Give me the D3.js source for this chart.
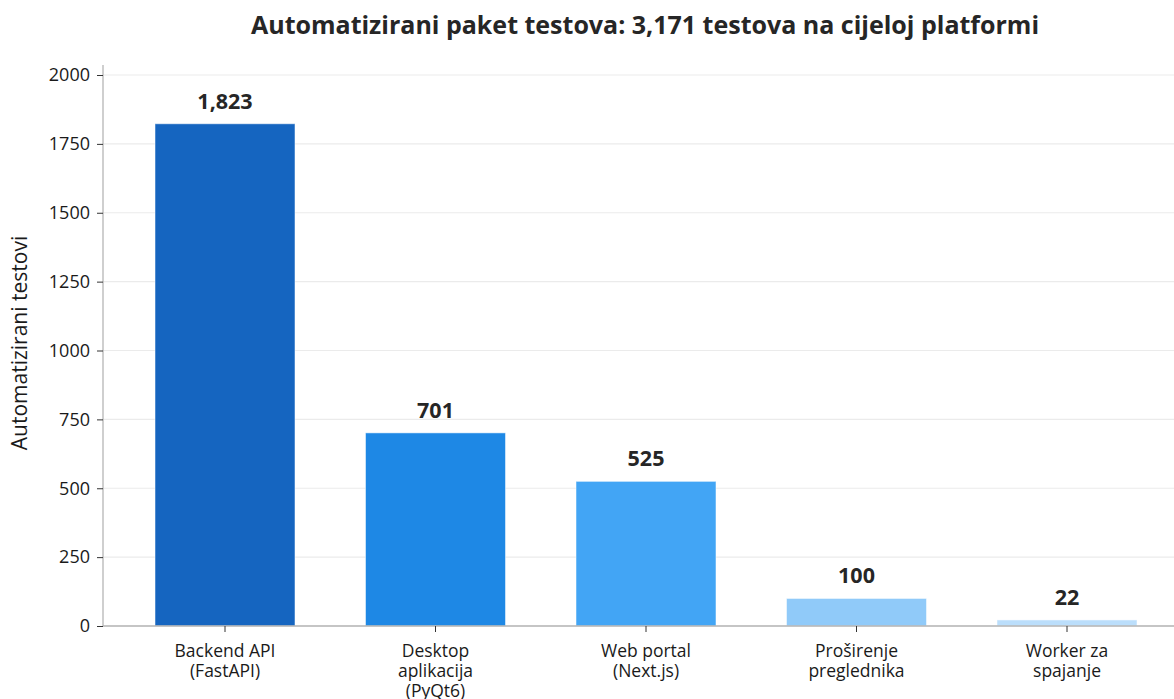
<!DOCTYPE html>
<html>
<head>
<meta charset="utf-8">
<script src="https://cdn.jsdelivr.net/npm/d3@7"></script>
<style>
  html, body { margin: 0; padding: 0; background: #fff; }
  svg { display: block; font-family: "Open Sans", sans-serif; }
  svg text { font-family: "Open Sans", sans-serif; }
</style>
</head>
<body>
<svg id="chart" width="1174" height="699"></svg>
<script>
// Test counts per platform component
const categories = [
  ["Backend API", "(FastAPI)"],
  ["Desktop", "aplikacija", "(PyQt6)"],
  ["Web portal", "(Next.js)"],
  ["Proširenje", "preglednika"],
  ["Worker za", "spajanje"]
];
const testCounts = [1823, 701, 525, 100, 22];
const barColors = ["#1565C0", "#1E88E5", "#42A5F5", "#90CAF9", "#BBDEFB"];
const yTicks = [0, 250, 500, 750, 1000, 1250, 1500, 1750, 2000];
const titleText = "Automatizirani paket testova: 3,171 testova na cijeloj platformi";
const yLabel = "Automatizirani testovi";

(function draw() {
  const svg = d3.select("#chart");
  const plotLeft = 103, plotRight = 1174, plotTop = 75, plotBottom = 626;

  const keys = categories.map((c, i) => i);
  const x = d3.scaleBand()
    .domain(keys)
    .range([119.75, 1172.25])
    .paddingInner(0.335)
    .paddingOuter(0.1675);

  const y = d3.scaleLinear().domain([0, 2000]).range([plotBottom, plotTop]);

  // horizontal grid
  svg.append("g")
    .selectAll("line")
    .data(yTicks)
    .join("line")
    .attr("x1", plotLeft).attr("x2", plotRight)
    .attr("y1", d => y(d)).attr("y2", d => y(d))
    .attr("stroke", "#ebebeb").attr("stroke-width", 1.2);

  // bars
  svg.append("g")
    .selectAll("rect")
    .data(testCounts)
    .join("rect")
    .attr("x", (d, i) => x(i))
    .attr("y", d => y(d))
    .attr("width", x.bandwidth())
    .attr("height", d => y(0) - y(d))
    .attr("fill", (d, i) => barColors[i])
    .attr("stroke", "#ffffff").attr("stroke-opacity", 0.5).attr("stroke-width", 1);

  // value labels
  svg.append("g")
    .selectAll("text")
    .data(testCounts)
    .join("text")
    .attr("x", (d, i) => x(i) + x.bandwidth() / 2)
    .attr("y", d => y(d) - 15)
    .attr("text-anchor", "middle")
    .attr("font-size", 21.5)
    .attr("font-weight", "bold")
    .attr("fill", "#262626")
    .text(d => d3.format(",")(d));

  // y axis
  const yAxis = svg.append("g")
    .attr("transform", `translate(${plotLeft},0)`)
    .call(d3.axisLeft(y).tickValues(yTicks).tickSize(6).tickPadding(7).tickFormat(d3.format("d")));
  yAxis.attr("font-family", null);
  yAxis.select(".domain").attr("stroke", "#b5b5b5").attr("stroke-width", 1.3).attr("d", `M0,${plotTop - 10}V${plotBottom}`);
  yAxis.selectAll(".tick line").attr("stroke", "#333");
  yAxis.selectAll(".tick text").attr("font-size", 18).attr("fill", "#1a1a1a");

  // x axis
  const xAxis = svg.append("g")
    .attr("transform", `translate(0,${plotBottom})`)
    .call(d3.axisBottom(x).tickSize(6).tickFormat(""));
  xAxis.attr("font-family", null);
  xAxis.select(".domain").attr("stroke", "#b5b5b5").attr("stroke-width", 1.3).attr("d", `M${plotLeft},0H${plotRight}`);
  xAxis.selectAll(".tick line").attr("stroke", "#333");
  xAxis.selectAll(".tick").each(function(d) {
    const t = d3.select(this).append("text")
      .attr("text-anchor", "middle")
      .attr("font-size", 17.5)
      .attr("fill", "#1a1a1a");
    categories[d].forEach((line, j) => {
      t.append("tspan").attr("x", 0).attr("y", 31 + j * 20).text(line);
    });
  });

  // title
  svg.append("text")
    .attr("x", 645).attr("y", 34)
    .attr("text-anchor", "middle")
    .attr("font-size", 25)
    .attr("font-weight", "bold")
    .attr("fill", "#262626")
    .text(titleText);

  // y label
  svg.append("text")
    .attr("transform", `translate(27,${343}) rotate(-90)`)
    .attr("text-anchor", "middle")
    .attr("font-size", 21)
    .attr("fill", "#1a1a1a")
    .text(yLabel);
})();
</script>
</body>
</html>
